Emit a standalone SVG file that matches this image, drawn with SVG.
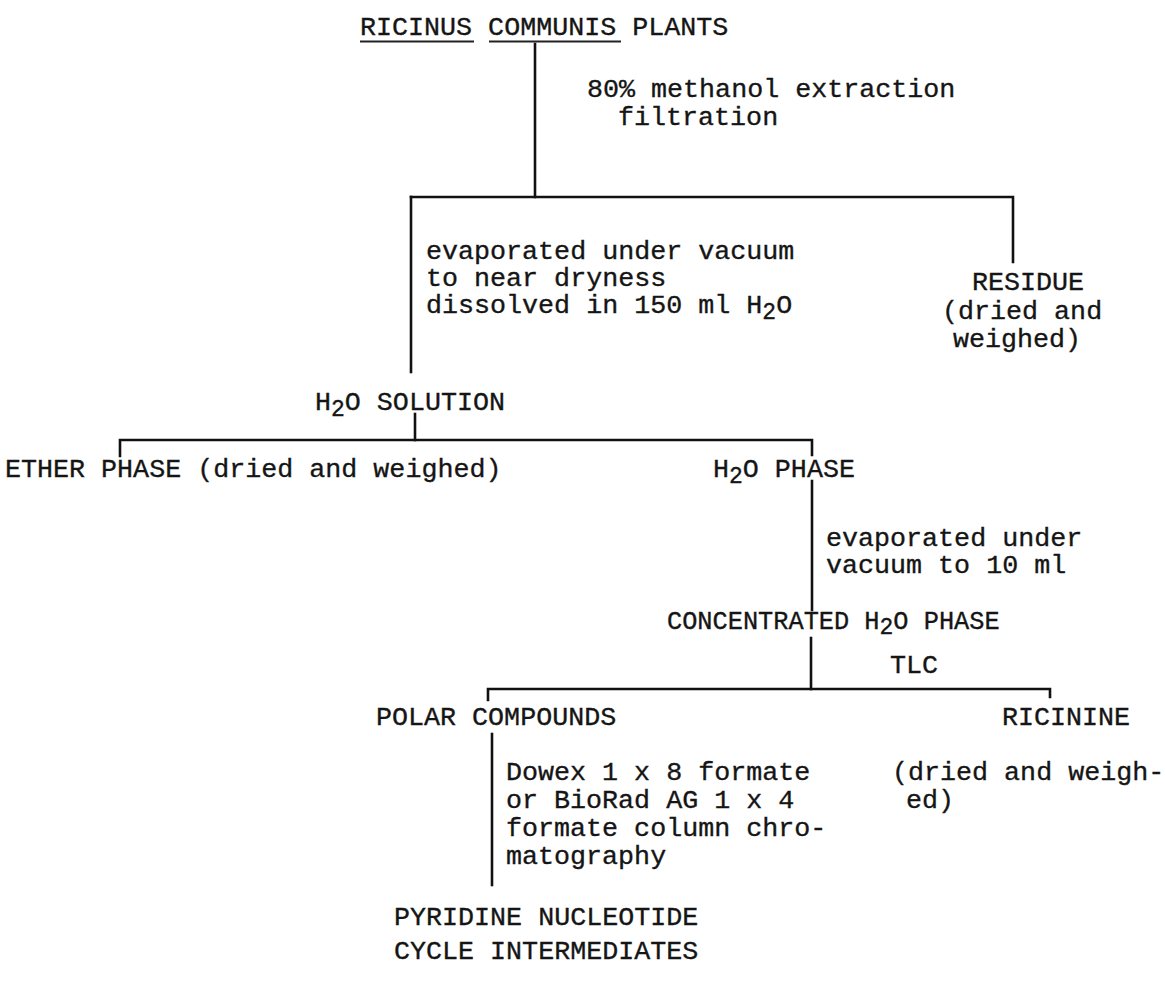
<svg xmlns="http://www.w3.org/2000/svg" width="1165" height="996" viewBox="0 0 1165 996">
<style>
text{font-family:"Liberation Mono","Courier New",monospace;font-size:26.7px;fill:#151515;stroke:#151515;stroke-width:0.35}
.sub{font-size:23px}
.nar{font-size:25.3px}
.ln{stroke:#111;stroke-width:2.6;fill:none;stroke-linecap:square}
.ul{stroke:#222;stroke-width:1.8;fill:none}
</style>
<rect width="1165" height="996" fill="#fff"/>
<g id="connectors">
<path class="ln" d="M535 44V197"/>
<path class="ln" d="M411 197H1013V262"/>
<path class="ln" d="M411 197V372"/>
<path class="ln" d="M415 414V440"/>
<path class="ln" d="M120 456V440H812V455"/>
<path class="ln" d="M812 481V610"/>
<path class="ln" d="M811 638V689"/>
<path class="ln" d="M488 700V689H1050V697"/>
<path class="ln" d="M492 734V885"/>
</g>
<g id="plants">
<text x="360" y="35">RICINUS COMMUNIS PLANTS</text>
<path class="ul" d="M360 41.5H474M489 41.5H621"/>
</g>
<g id="step-extraction">
<text x="587" y="97">80% methanol extraction</text>
<text x="618" y="125">filtration</text>
</g>
<g id="step-evaporate">
<text x="426" y="259">evaporated under vacuum</text>
<text x="426" y="286">to near dryness</text>
<text x="426" y="313">dissolved in 150 ml H<tspan class="sub" dy="6">2</tspan><tspan dy="-6">O</tspan></text>
</g>
<g id="residue">
<text x="972" y="290">RESIDUE</text>
<text x="942" y="319">(dried and</text>
<text x="953" y="347">weighed)</text>
</g>
<g id="h2o-solution">
<text x="315" y="410">H<tspan class="sub" dy="6">2</tspan><tspan dy="-6">O SOLUTION</tspan></text>
</g>
<g id="ether-phase">
<text x="5" y="477">ETHER PHASE (dried and weighed)</text>
</g>
<g id="h2o-phase">
<text x="713" y="477">H<tspan class="sub" dy="6">2</tspan><tspan dy="-6">O PHASE</tspan></text>
</g>
<g id="step-concentrate">
<text x="826" y="546">evaporated under</text>
<text x="826" y="573">vacuum to 10 ml</text>
</g>
<g id="concentrated-phase">
<text class="nar" x="667" y="629">CONCENTRATED H<tspan class="sub" dy="5">2</tspan><tspan dy="-5">O PHASE</tspan></text>
</g>
<g id="step-tlc">
<text x="890" y="673">TLC</text>
</g>
<g id="polar-compounds">
<text x="376" y="725">POLAR COMPOUNDS</text>
</g>
<g id="ricinine">
<text x="1002" y="725">RICININE</text>
<text x="892" y="780">(dried and weigh-</text>
<text x="906" y="808">ed)</text>
</g>
<g id="step-column">
<text x="506" y="780">Dowex 1 x 8 formate</text>
<text x="506" y="808">or BioRad AG 1 x 4</text>
<text x="506" y="836">formate column chro-</text>
<text x="506" y="864">matography</text>
</g>
<g id="pyridine-intermediates">
<text x="394" y="925">PYRIDINE NUCLEOTIDE</text>
<text x="394" y="959">CYCLE INTERMEDIATES</text>
</g>
</svg>
